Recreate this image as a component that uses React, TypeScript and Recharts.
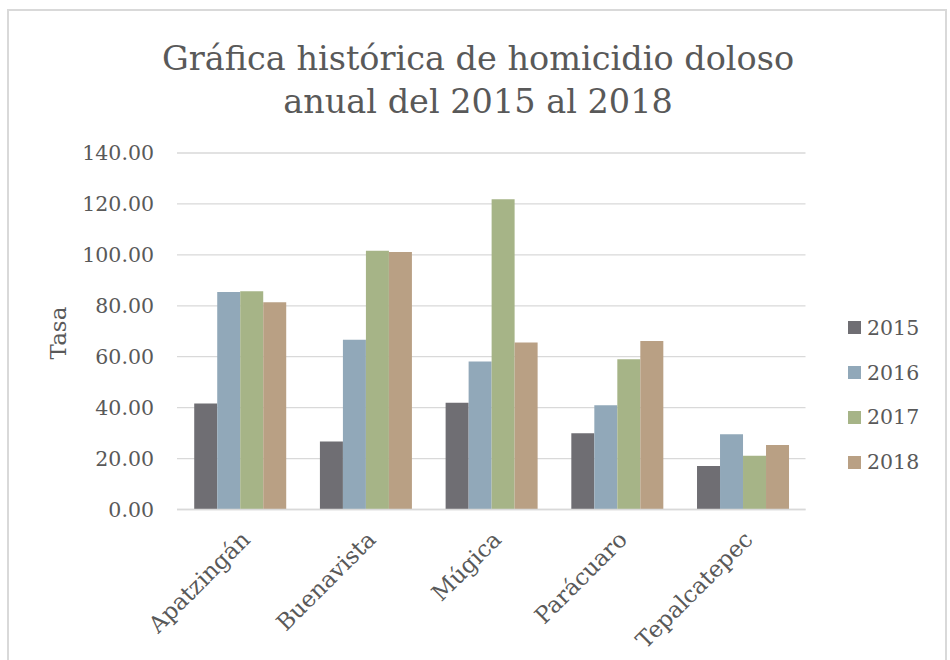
import { BarChart, Bar, XAxis, YAxis, CartesianGrid, Legend } from "recharts";

const municipios = ["Apatzingán", "Buenavista", "Múgica", "Parácuaro", "Tepalcatepec"];
const tasa2015 = [41.6, 26.7, 41.9, 29.9, 17.1];
const tasa2016 = [85.4, 66.7, 58.1, 40.9, 29.6];
const tasa2017 = [85.7, 101.6, 121.8, 59.0, 21.1];
const tasa2018 = [81.4, 101.1, 65.6, 66.2, 25.3];
const yTicks = [0, 20, 40, 60, 80, 100, 120, 140];

const series = [
  { key: "2015", color: "#6F6E73" },
  { key: "2016", color: "#91A8B9" },
  { key: "2017", color: "#A6B487" },
  { key: "2018", color: "#B9A084" },
];

const data = municipios.map((m, i) => ({
  name: m,
  "2015": tasa2015[i],
  "2016": tasa2016[i],
  "2017": tasa2017[i],
  "2018": tasa2018[i],
}));

const FONT = "'DejaVu Serif', serif";
const TEXT = "#595959";

const LegendList = ({ payload }: any) => (
  <div style={{ fontFamily: FONT, fontSize: 20.5, color: TEXT }}>
    {(payload || []).map((p: any) => (
      <div key={p.value} style={{ height: 44.7, display: "flex", alignItems: "center" }}>
        <span style={{ width: 13, height: 13, background: p.color, display: "inline-block", marginRight: 6 }} />
        <span>{p.value}</span>
      </div>
    ))}
  </div>
);

export default function App() {
  return (
    <div style={{ position: "absolute", left: 0, top: 0, width: 950, height: 660, background: "#fff", overflow: "hidden" }}>
      <div
        style={{
          position: "absolute",
          left: 7,
          top: 9,
          width: 940,
          height: 700,
          border: "2px solid #d9d9d9",
          boxSizing: "border-box",
        }}
      />
      <div style={{ position: "absolute", left: 0, top: 0 }}>
        <BarChart
          width={950}
          height={660}
          data={data}
          margin={{ top: 153, right: 44.5, bottom: 0, left: 0 }}
          barCategoryGap="13.7%"
          barGap={0}
        >
          <CartesianGrid vertical={false} stroke="#d9d9d9" strokeWidth={1.3} />
          <XAxis
            dataKey="name"
            height={150.5}
            interval={0}
            tickLine={false}
            tickSize={0}
            tickMargin={20}
            axisLine={{ stroke: "#d9d9d9", strokeWidth: 1.3 }}
            tick={{ angle: -45, textAnchor: "end", fill: TEXT, fontSize: 23, fontFamily: FONT }}
          />
          <YAxis
            width={177}
            domain={[0, 140]}
            ticks={yTicks}
            interval={0}
            axisLine={false}
            tickLine={false}
            tickSize={0}
            tickMargin={23}
            tickFormatter={(v: number) => v.toFixed(2)}
            tick={{ fill: TEXT, fontSize: 20.5, fontFamily: FONT }}
          />
          <Legend
            layout="vertical"
            align="right"
            verticalAlign="middle"
            content={<LegendList />}
            wrapperStyle={{ position: "absolute", left: 848, top: 305.6, width: 100 }}
          />
          {series.map((s) => (
            <Bar key={s.key} dataKey={s.key} name={s.key} fill={s.color} isAnimationActive={false} />
          ))}
        </BarChart>
      </div>
      <svg width={950} height={660} style={{ position: "absolute", left: 0, top: 0, pointerEvents: "none" }}>
        <text x={478} y={70} textAnchor="middle" fill={TEXT} fontSize={33.5} fontFamily={FONT}>
          Gráfica histórica de homicidio doloso
        </text>
        <text x={478} y={113} textAnchor="middle" fill={TEXT} fontSize={33.5} fontFamily={FONT}>
          anual del 2015 al 2018
        </text>
        <text
          x={58}
          y={333}
          textAnchor="middle"
          dominantBaseline="central"
          transform="rotate(-90 58 333)"
          fill={TEXT}
          fontSize={23}
          fontFamily={FONT}
        >
          Tasa
        </text>
      </svg>
    </div>
  );
}
